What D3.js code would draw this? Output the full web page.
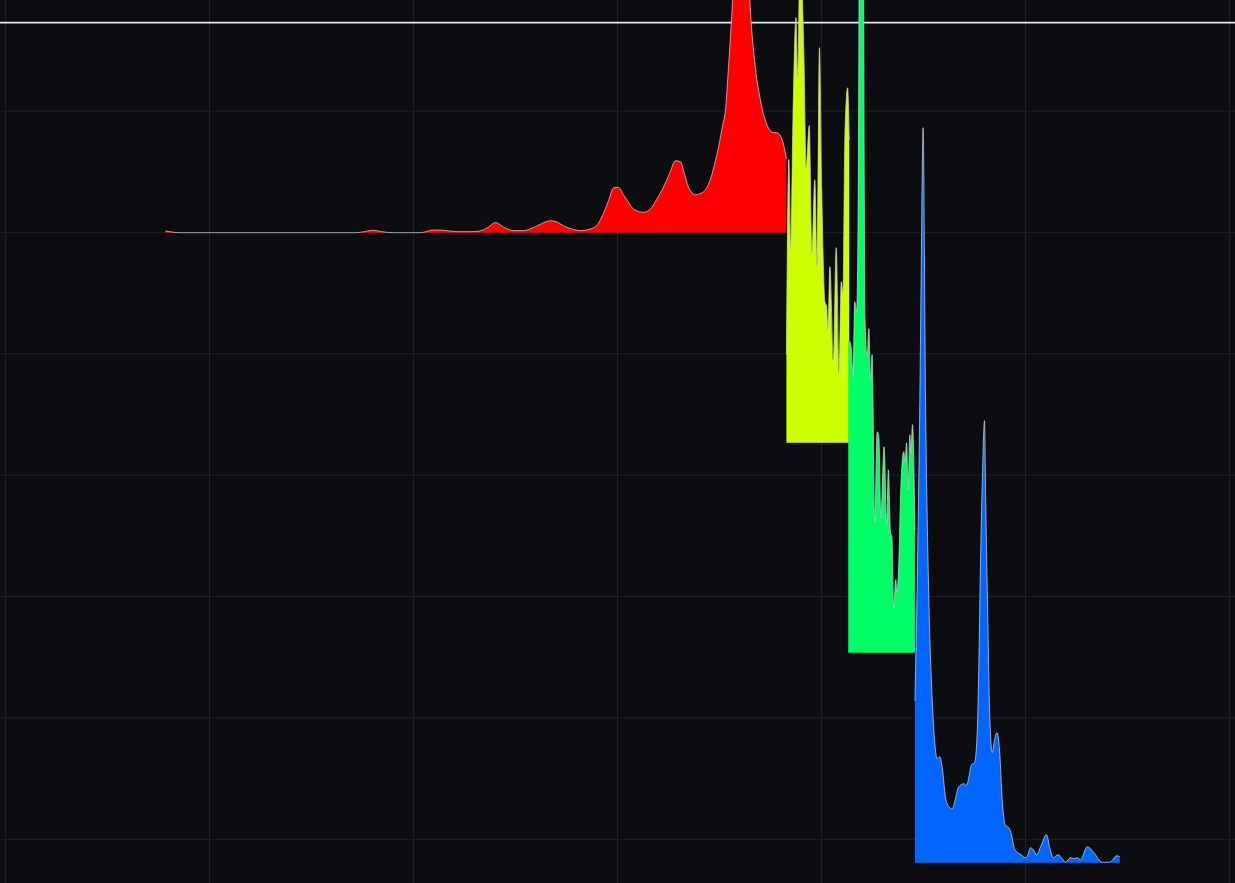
<!DOCTYPE html>
<html><head><meta charset="utf-8">
<script src="https://cdn.jsdelivr.net/npm/d3@7"></script>
<style>html,body{margin:0;padding:0;background:#0b0d11;overflow:hidden}</style>
</head><body>
<svg id="c" width="1235" height="883"></svg>
<script>
// ---- data ----
const seriesNames = ["red", "yellow", "green", "blue"];
const seriesColors = ["#ff0000", "#ccff00", "#00ff66", "#0066ff"];
const seriesOffsets = [30, 20, 10, 0];

const redData = [
  [78.4,0.08],[85.8,0],[171.6,0],[176.5,0.06],[179.9,0.12],[183.8,0.06],[189.7,0],
  [203.4,0],[209.8,0.13],[214.7,0.12],[220.6,0.05],[227.9,0.05],[231.9,0.07],
  [236.3,0.24],[240.2,0.48],[244.6,0.24],[249.0,0.1],[253.9,0.1],[258.8,0.24],
  [263.2,0.45],[267.2,0.57],[270.6,0.5],[273.5,0.33],[277.9,0.17],[281.9,0.1],
  [286.8,0.18],[290.2,0.38],[292.6,0.81],[295.6,1.52],[298.0,2.13],[300.5,2.16],
  [302.9,1.81],[304.9,1.52],[307.8,1.13],[312.7,0.97],[316.2,1.13],[319.1,1.57],
  [322.5,2.16],[325.5,2.81],[328.4,3.43],[330.9,3.38],[332.8,2.81],[334.8,2.16],
  [338.2,1.81],[341.7,1.92],[345.6,2.56],[348.0,3.43],[349.5,4.06],[351.5,5.1],
  [352.9,5.81],[354.4,7.86],[356.4,11.05],[358.3,15.1],[360.8,16.76],[363.2,15.1],
  [364.9,11.05],[367.6,7.86],[370.1,6.29],[373.4,5.1],[376.0,4.78],[378.4,4.75],
  [380.9,4.38],[382.8,3.52]
];
const yellowData = [
  [382.8,4.19],[384.0,13.48],[384.9,9.19],[386.0,15.38],[387.5,20.24],[388.3,17.38],
  [389.0,21.1],[389.8,25.5],[390.7,21.1],[391.4,18.33],[392.5,13.1],[394.0,15.1],
  [395.3,9.05],[396.7,12.52],[397.8,8.38],[399.0,18.81],[400.1,12.05],[401.7,6.71],
  [402.5,6.48],[403.2,5.38],[404.1,8.38],[405.8,3.95],[407.2,9.29],[408.6,3.38],
  [409.7,7.67],[410.5,7.14],[411.5,14.76],[412.8,16.9],[413.6,14.43]
];
const greenData = [
  [413.1,14.9],[414.4,14.67],[415.5,13.24],[416.3,16.71],[417.2,16.24],[418.0,21.57],
  [419.6,64.0],[421.0,21.57],[421.3,15.9],[422.4,14.1],[423.2,15.43],[424.0,13.0],
  [424.8,14.19],[426.1,6.24],[427.3,10.52],[428.1,10.29],[429.1,6.43],[430.7,9.81],
  [431.9,6.1],[432.8,8.71],[433.8,5.71],[434.5,5.52],[435.4,2.14],[436.4,3.48],
  [436.9,2.86],[437.9,4.29],[438.9,7.9],[440.3,9.57],[441.0,9.1],[441.7,10.0],
  [442.5,7.76],[443.3,10.38],[443.8,9.52],[444.6,10.86],[445.8,5.86]
];
const blueData = [
  [445.8,7.71],[447.1,14.38],[448.2,22.0],[449.0,29.14],[449.8,35.0],[451.0,22.0],
  [452.6,12.62],[454.3,7.71],[455.9,5.33],[456.7,4.95],[458.0,5.05],[459.2,4.52],
  [460.8,3.10],[462.4,2.67],[464.1,2.57],[465.4,2.95],[467.3,3.62],[469.8,3.76],
  [471.1,3.67],[472.2,4.05],[473.5,4.67],[475.0,4.76],[476.3,6.14],[477.1,9.29],
  [477.9,14.05],[478.8,18.05],[479.9,21.05],[480.5,17.24],[481.5,11.67],[482.5,6.9],
  [483.7,5.24],[484.9,5.9],[486.0,6.19],[487.3,5.33],[488.6,2.95],[490.2,1.76],
  [491.8,1.67],[493.0,1.38],[494.6,0.67],[496.2,0.48],[497.9,0.38],[499.7,0.24],
  [500.5,0.24],[502.5,0.71],[503.8,0.62],[505.4,0.38],[507.4,0.76],[510.3,1.33],
  [511.9,0.71],[513.6,0.24],[516.0,0.38],[518.0,0.19],[519.6,0.02],[522.1,0.24],
  [523.7,0.19],[525.3,0.24],[526.9,0.14],[530.3,0.76],[533.5,0.48],[537.6,0.02],
  [540.8,0.02],[542.5,0.1],[544.6,0.33],[546.2,0.29]
];
const seriesData = [redData, yellowData, greenData, blueData];

const gridCols = [0, 100, 200, 300, 400, 500, 600];
const gridRows = [0, 1, 2, 3, 4, 5, 6];
const topLineValue = 40;

// ---- drawing ----
const W = 1235, H = 883;
const svg = d3.select("#c");
const x = d3.scaleLinear().domain([0, 600]).range([5.5, 1229.5]);
const y = d3.scaleLinear().domain([0, 40]).range([862.7, 22.7]);
const gy = d3.scaleLinear().domain([0, 6]).range([839.3, 111]);

svg.append("rect").attr("width", W).attr("height", H).attr("fill", "#0b0d11");

const grid = svg.append("g").attr("stroke", "#1f2227").attr("stroke-width", 1);
grid.selectAll("line.v").data(gridCols).join("line").attr("class", "v")
  .attr("x1", d => x(d)).attr("x2", d => x(d)).attr("y1", 0).attr("y2", H);
grid.selectAll("line.h").data(gridRows).join("line").attr("class", "h")
  .attr("x1", 0).attr("x2", W).attr("y1", d => gy(d)).attr("y2", d => gy(d));

svg.append("line").attr("x1", 0).attr("x2", W)
  .attr("y1", y(topLineValue)).attr("y2", y(topLineValue))
  .attr("stroke", "#e8e8e8").attr("stroke-width", 1.7);

const g = svg.append("g");
seriesData.forEach((data, i) => {
  const off = seriesOffsets[i];
  const area = d3.area().curve(d3.curveMonotoneX)
    .x(d => x(d[0])).y0(y(off)).y1(d => y(off + d[1]));
  const line = d3.line().curve(d3.curveMonotoneX)
    .x(d => x(d[0])).y(d => y(off + d[1]));
  g.append("path").datum(data).attr("class", "area-" + seriesNames[i])
    .attr("d", area).attr("fill", seriesColors[i]);
  g.append("path").datum(data)
    .attr("d", line).attr("fill", "none")
    .attr("stroke", "rgba(205,205,205,0.85)").attr("stroke-width", 0.9);
});
</script>
</body></html>
